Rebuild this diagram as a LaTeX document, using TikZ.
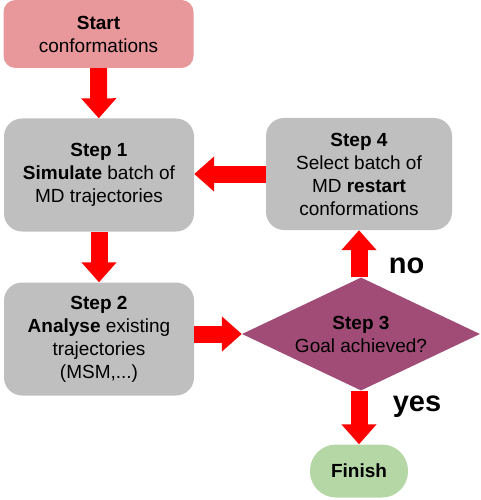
\documentclass[tikz,border=0pt]{standalone}
\usepackage{fontspec}
\setmainfont{Liberation Sans}
\usetikzlibrary{shapes.geometric,arrows.meta}

\definecolor{startred}{HTML}{E8979A}
\definecolor{stepgray}{HTML}{BFBFBF}
\definecolor{goalpurple}{HTML}{A04C76}
\definecolor{finishgreen}{HTML}{B5D7A6}

\begin{document}
\begin{tikzpicture}[x=1pt, y=-1pt, font=\fontsize{19}{23}\selectfont,
    stepbox/.style={fill=stepgray, rounded corners=18pt, align=center, minimum width=190pt, minimum height=113pt, inner sep=0pt},
    bigarrow/.style={red, line width=17pt, -{Triangle[width=34pt,length=20pt]}},
    answer/.style={text=black, font=\fontsize{29}{30}\selectfont\bfseries}]
    \useasboundingbox (0,0) rectangle (480,500);
    \node [stepbox, fill=startred, rounded corners=12pt, minimum height=68pt] (start) at (98.5,34) {\textbf{Start}\\conformations};
    \node [stepbox] (step1) at (99,175) {\textbf{Step 1}\\\textbf{Simulate} batch of\\MD trajectories};
    \node [stepbox] (step2) at (99,339) {\textbf{Step 2}\\\textbf{Analyse} existing\\trajectories\\(MSM,...)};
    \node [stepbox, minimum width=186pt, minimum height=112pt] (step4) at (359,174) {\textbf{Step 4}\\Select batch of\\MD \textbf{restart}\\conformations};
    \node [diamond, fill=goalpurple, aspect=2.1, inner sep=0pt, minimum width=238pt, minimum height=113pt, align=center] (step3) at (361,334) {\textbf{Step 3}\\Goal achieved?};
    \node [fill=finishgreen, rounded corners=26pt, minimum width=98pt, minimum height=53pt, inner sep=0pt] (finish) at (359,471) {\textbf{Finish}};
%    \node [answer] at (410,266) {no};
    \draw [bigarrow] (start) -- (step1);
    \draw [bigarrow] (step1) -- (step2);
    \draw [bigarrow] (step2.east |- step3.west) -- (step3.west);
    \draw [bigarrow] (step4.south |- step3.north) -- (step4.south) node [answer, pos=0.25, right=18pt] {no};
    \draw [bigarrow] (step4.west) -- (step4.west -| step1.east);
    \draw [bigarrow] (finish.north |- step3.south) -- (finish.north) node [answer, pos=0.3, right=22pt] {yes};
\end{tikzpicture}
\end{document}
